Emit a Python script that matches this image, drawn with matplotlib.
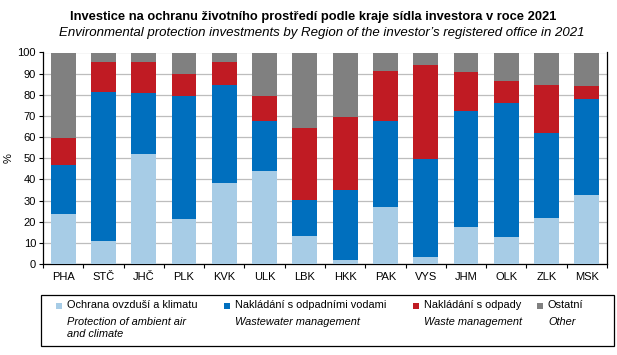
import matplotlib
matplotlib.use("Agg")
import matplotlib.pyplot as plt
from matplotlib.patches import Rectangle
import numpy as np

plt.rcParams['font.family'] = ['Liberation Sans', 'DejaVu Sans']

regions = ["PHA", "STČ", "JHČ", "PLK", "KVK", "ULK", "LBK", "HKK", "PAK", "VYS", "JHM", "OLK", "ZLK", "MSK"]
air = [23.8, 10.9, 52.1, 21.3, 38.4, 44.1, 13.4, 2.0, 27.1, 3.3, 17.6, 12.9, 21.9, 32.8]
water = [23.0, 70.5, 28.8, 58.2, 46.3, 23.5, 17.0, 33.1, 40.5, 46.5, 54.8, 63.3, 40.0, 45.2]
waste = [12.9, 14.0, 14.5, 10.4, 10.7, 11.9, 34.0, 34.3, 23.6, 44.4, 18.3, 10.3, 22.8, 6.3]
other = [40.3, 4.6, 4.6, 10.1, 4.6, 20.5, 35.6, 30.6, 8.8, 5.8, 9.3, 13.5, 15.3, 15.7]

series_cz = ["Ochrana ovzduší a klimatu", "Nakládání s odpadními vodami", "Nakládání s odpady", "Ostatní"]
series_en = ["Protection of ambient air\nand climate", "Wastewater management", "Waste management", "Other"]
colors = ["#A7CCE6", "#006FBE", "#C01B23", "#808080"]

W, H = 617, 355
fig = plt.figure(figsize=(W / 100, H / 100), dpi=100)
ax = fig.add_axes([43 / W, (H - 264) / H, (607 - 43) / W, (264 - 52.5) / H])

x = np.arange(len(regions))
bottom = np.zeros(len(regions))
for vals, c in zip([air, water, waste, other], colors):
    ax.bar(x, vals, bottom=bottom, width=0.62, color=c, zorder=3, linewidth=0)
    bottom += np.array(vals)

ax.set_xlim(-0.5, len(regions) - 0.5)
ax.set_ylim(0, 100)
ax.set_yticks(np.arange(0, 101, 10))
ax.yaxis.grid(True, color="#BDBDBD", linewidth=0.9, zorder=0)
ax.set_xticks(x)
ax.set_xticklabels(regions, fontsize=8)
ax.tick_params(axis='x', length=0, pad=6)
ax.set_xticks(np.arange(-0.5, len(regions), 1), minor=True)
ax.tick_params(axis='x', which='minor', length=3, width=0.8, direction='out')
ax.tick_params(axis='y', labelsize=8, length=3, width=0.8, pad=2)
ax.set_ylabel("%", fontsize=8, labelpad=3)
for s in ['top']:
    ax.spines[s].set_visible(False)
for s in ['left', 'bottom', 'right']:
    ax.spines[s].set_linewidth(0.9)
    ax.spines[s].set_color('black')

fig.text(313 / W, 1 - 17 / H, "Investice na ochranu životního prostředí podle kraje sídla investora v roce 2021",
         ha='center', va='center', fontsize=9.3, fontweight='bold')
fig.text(322 / W, 1 - 33 / H, "Environmental protection investments by Region of the investor’s registered office in 2021",
         ha='center', va='center', fontsize=9.5, style='italic')

# legend box
fig.patches.append(Rectangle((41 / W, 1 - 345.5 / H), (614 - 41) / W, (345.5 - 295) / H,
                             transform=fig.transFigure, fill=False, edgecolor='black', linewidth=0.9))
mx = [56, 224, 413, 537]
for m, c, cz, en in zip(mx, colors, series_cz, series_en):
    fig.patches.append(Rectangle((m / W, 1 - 308.5 / H), 6 / W, 6 / H, transform=fig.transFigure,
                                 facecolor=c, edgecolor='none'))
    fig.text((m + 11) / W, 1 - 305.5 / H, cz, ha='left', va='center', fontsize=7.9)
    fig.text((m + 11) / W, 1 - 317 / H, en, ha='left', va='top', fontsize=7.9, style='italic',
             linespacing=1.2)

fig.savefig("out.png", dpi=100)
